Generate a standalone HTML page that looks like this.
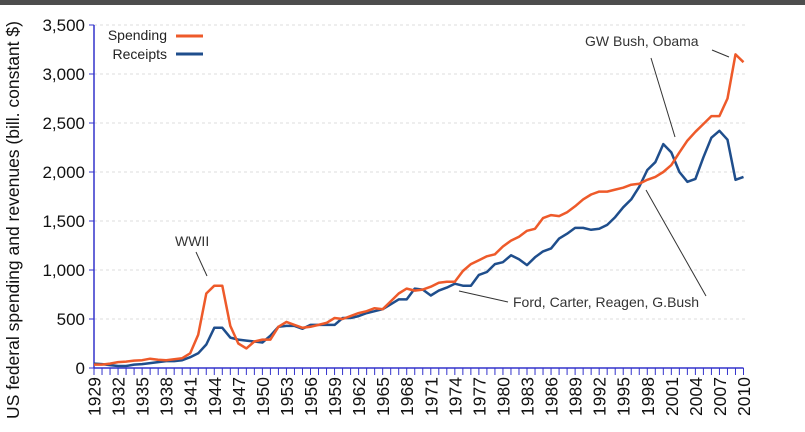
<!DOCTYPE html>
<html><head><meta charset="utf-8"><style>
body{margin:0;background:#fff;}
svg{display:block;font-family:"Liberation Sans",sans-serif;}
</style></head><body>
<svg id="chart" width="805" height="432">
<rect x="0" y="0" width="805" height="5" fill="#4d4d4d"/>
<g id="grid"></g>
<g id="axes"></g>
<g id="series"></g>
<text x="19" y="220" transform="rotate(-90 19 220)" text-anchor="middle" font-size="17.5" fill="#111">US federal spending and revenues (bill. constant $)</text>
<g>
<text x="167" y="40" text-anchor="end" font-size="14" fill="#222">Spending</text>
<line x1="176" y1="36" x2="203" y2="36" stroke="#ee5a2a" stroke-width="3"/>
<text x="167" y="59" text-anchor="end" font-size="14" fill="#222">Receipts</text>
<line x1="176" y1="54" x2="203" y2="54" stroke="#1f4e8c" stroke-width="3"/>
</g>
<g font-size="14" fill="#333" stroke-width="1">
<text x="175" y="246">WWII</text>
<line x1="196" y1="252" x2="207" y2="276" stroke="#333"/>
<text x="585" y="46">GW Bush, Obama</text>
<line x1="712" y1="50" x2="729" y2="57" stroke="#333"/>
<line x1="651" y1="58" x2="675" y2="137" stroke="#333"/>
<text x="513" y="307">Ford, Carter, Reagen, G.Bush</text>
<line x1="459" y1="291" x2="508" y2="302" stroke="#333"/>
<line x1="646" y1="190" x2="706" y2="296" stroke="#333"/>
</g>
</svg>
<script>
const startYear = 1929;
const spending = [35,35,45,60,65,75,80,95,85,80,90,100,150,340,760,840,840,430,250,200,270,290,290,420,470,440,410,420,440,460,510,500,530,560,580,610,600,680,760,810,790,800,830,870,880,880,990,1060,1100,1140,1160,1240,1300,1340,1400,1420,1530,1560,1550,1590,1650,1720,1770,1800,1800,1820,1840,1870,1880,1920,1950,2000,2070,2200,2320,2410,2490,2570,2570,2750,3200,3120];
const receipts = [45,40,30,20,20,35,40,50,60,70,70,80,110,150,240,410,410,310,290,280,270,260,330,420,430,430,400,440,440,440,440,510,510,530,560,580,600,650,700,700,810,800,740,790,820,860,840,840,950,980,1060,1080,1150,1110,1050,1130,1190,1220,1320,1370,1430,1430,1410,1420,1460,1540,1640,1720,1850,2020,2100,2285,2200,2000,1900,1930,2150,2350,2420,2330,1920,1950];
const yTicks = [0,500,1000,1500,2000,2500,3000,3500];
const yTickLabels = ["0","500","1,000","1,500","2,000","2,500","3,000","3,500"];
const ns="http://www.w3.org/2000/svg";
const x0=94, x1=743.5, yb=368, yt=25;
const nYears=spending.length;
function xs(i){return x0+(x1-x0)*i/(nYears-1);}
function ys(v){return yb-(yb-yt)*v/3500;}
function mk(tag,attrs,parent){const e=document.createElementNS(ns,tag);for(const k in attrs)e.setAttribute(k,attrs[k]);parent.appendChild(e);return e;}
const grid=document.getElementById('grid'),axes=document.getElementById('axes'),series=document.getElementById('series');
yTicks.forEach((v,i)=>{
  if(v>0){const g=mk('line',{x1:x0,x2:745,y1:ys(v),y2:ys(v),stroke:'#ddd','stroke-dasharray':'3,3'},grid);
  
  }
  const tk=mk('line',{x1:x0-5,x2:x0,y1:ys(v),y2:ys(v),stroke:'#3333cc'},axes);
  
  
  const t=mk('text',{x:x0-9,y:ys(v)+6,'text-anchor':'end','font-size':'17',fill:'#111'},axes);
  t.textContent=yTickLabels[i];
  
  
});
const ya=mk('line',{x1:x0,x2:x0,y1:yt,y2:yb,stroke:'#3333cc','stroke-width':1.5},axes);


const xa=mk('line',{x1:x0,x2:x1,y1:yb,y2:yb,stroke:'#3333cc','stroke-width':1.5},axes);


for(let i=0;i<nYears;i++){
  const tk=mk('line',{x1:xs(i),x2:xs(i),y1:yb,y2:yb+7,stroke:'#3333cc'},axes);
  
  
  if(i%3===0||i===nYears-1){
    const x=xs(i)+6.5,y=yb+9;
    const t=mk('text',{x:x,y:y,transform:`rotate(-90 ${x} ${y})`,'text-anchor':'end','font-size':'17.5',fill:'#111'},axes);
    t.textContent=String(startYear+i);
    
    
  }
}
function path(arr){return arr.map((v,i)=>(i?'L':'M')+xs(i).toFixed(1)+','+ys(v).toFixed(1)).join('');}
const pr=mk('path',{d:path(receipts),fill:'none',stroke:'#1f4e8c','stroke-width':2.5,'stroke-linejoin':'round'},series);


const ps=mk('path',{d:path(spending),fill:'none',stroke:'#ee5a2a','stroke-width':2.5,'stroke-linejoin':'round'},series);


</script>
</body></html>
